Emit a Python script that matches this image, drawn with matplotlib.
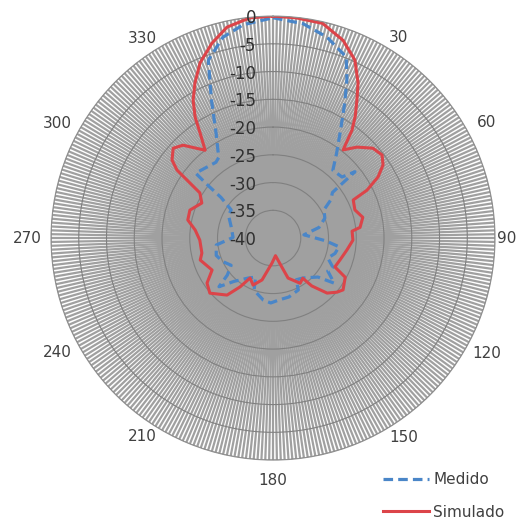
import numpy as np
import matplotlib
matplotlib.use('Agg')
import matplotlib.pyplot as plt
from matplotlib.transforms import offset_copy

# Simulated pattern (angle in degrees, gain in dB)
angles_sim = [0, 6, 13, 19.5, 24.7, 28.7, 31.3, 34, 36.2, 38.5, 42.7, 48, 52.7, 56.4,
              59.8, 63, 64.6, 71, 77, 83, 85, 91.5, 99, 108, 115, 118.5, 126.5, 130.2,
              135.5, 141, 143.5, 149, 159.4, 163, 172, 182.3, 194.7, 203, 209.9, 214,
              218.9, 228.9, 235.7, 242.3, 253.2, 258.1, 268.4, 275.9, 282, 288.6, 296.2,
              301.7, 303.5, 305.3, 307.7, 312, 315.9, 322.3, 325.2, 327.2, 329.9, 333.3,
              337.4, 342.6, 347.7, 354, 360]
db_sim = [0.0, -0.1, -0.3, -2.2, -4.7, -8.1, -10.9, -13.5, -15.9, -19.7, -17.7, -15.8,
          -15.3, -16.2, -18.1, -21.0, -24.0, -24.4, -23.4, -24.2, -25.7, -25.6, -26.5,
          -27.3, -27.7, -25.2, -24.3, -24.9, -26.1, -28.9, -31.0, -30.5, -32.3, -34.5,
          -36.8, -35.5, -32.2, -30.8, -31.7, -29.4, -26.8, -24.9, -25.6, -27.6, -26.3,
          -26.9, -26.8, -25.9, -24.3, -24.2, -25.7, -24.5, -22.1, -18.8, -17.0, -15.8,
          -16.7, -20.0, -17.0, -14.1, -11.3, -8.7, -5.8, -3.2, -1.1, -0.1, 0.0]

# Measured pattern
angles_med = [0, 8, 15, 22, 25, 28, 32.5, 37, 41.4, 48.5, 51, 52.5, 56.5, 61, 69, 77,
              84, 93, 97.5, 104, 110, 116, 121, 126.4, 131, 143, 151, 154, 165, 174.5,
              182, 189, 200, 204, 212, 222, 228, 231, 237, 245, 253, 263, 271, 285, 297,
              304, 308, 309, 310, 323, 326, 331.5, 336, 340, 346, 352, 360]
db_med = [-0.3, -1.0, -2.5, -4.8, -8.5, -12.5, -17.5, -21.0, -23.7, -23.4, -21.0, -26.5,
          -27.5, -29.5, -30.0, -31.5, -34.4, -30.5, -28.0, -28.5, -29.5, -28.0, -28.5,
          -26.3, -29.3, -31.0, -31.4, -29.6, -29.0, -28.8, -28.3, -28.7, -30.0, -32.3,
          -31.5, -29.5, -26.9, -29.4, -31.0, -30.0, -29.3, -29.7, -32.8, -32.2, -31.0,
          -30.9, -28.1, -24.9, -21.8, -22.9, -22.5, -18.5, -12.7, -5.9, -2.7, -1.2, -0.3]

r_ticks = [0, -5, -10, -15, -20, -25, -30, -35, -40]
angle_labels = [30, 60, 90, 120, 150, 180, 210, 240, 270, 300, 330]

# where Excel put the category labels: (angle deg, distance from centre in px)
label_spots = [(32, 236), (61.7, 243), (90, 234), (118.3, 243), (146.8, 238),
               (180, 242), (213.4, 238), (241.9, 244), (270, 246), (298.1, 244),
               (326.8, 239)]
R_PX = 222.0

fig = plt.figure(figsize=(5.32, 5.27), dpi=100)
ax = fig.add_axes([0.0959, 0.127, 0.8346, 0.8425], projection='polar')
ax.set_theta_zero_location('N')
ax.set_theta_direction(-1)

ax.plot(np.deg2rad(angles_med), db_med, color='#4A86C8', lw=2.3,
        ls=(0, (3, 1.6)), label='Medido')
ax.plot(np.deg2rad(angles_sim), db_sim, color='#DC4449', lw=2.2, label='Simulado')

ax.set_ylim(-40, 0)
ax.set_thetagrids(np.arange(360), labels=[''] * 360)
ax.set_rgrids(r_ticks, labels=[''] * len(r_ticks))
ax.tick_params(axis='x', length=0)
ax.xaxis.grid(True, color='#a0a0a0', lw=1.6)
ax.yaxis.grid(True, color='#808080', lw=0.8)
ax.spines['polar'].set_color('#909090')
ax.spines['polar'].set_linewidth(0.8)

for lab, (ang, rpx) in zip(angle_labels, label_spots):
    ax.text(np.deg2rad(ang), -40 + rpx / R_PX * 40, str(lab), ha='center',
            va='center', fontsize=11, color='#404040', clip_on=False)

# value labels along the 0 deg spoke
trans = offset_copy(ax.transData, fig=fig, x=-17, y=-2, units='dots')
for v in r_ticks:
    ax.text(0, v, str(v), transform=trans, ha='right', va='center',
            fontsize=12, color='#303030', zorder=5)

ax.legend(loc='upper left', bbox_to_anchor=(0.695, 0.13),
          bbox_transform=fig.transFigure, frameon=False, fontsize=11,
          handlelength=3.0, labelspacing=1.15, handletextpad=0.25,
          labelcolor='#404040')

fig.savefig('out.png', dpi=100)
